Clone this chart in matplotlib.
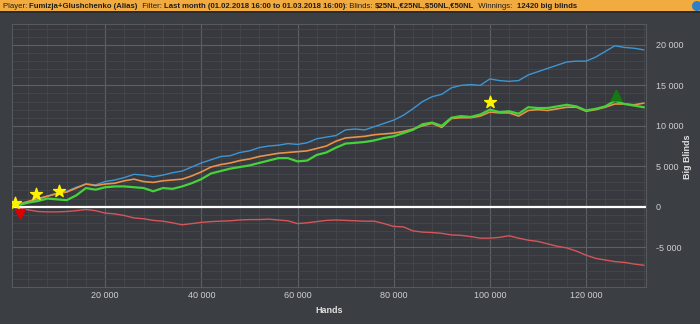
import matplotlib
matplotlib.use("Agg")
import matplotlib.pyplot as plt
from matplotlib.ticker import MultipleLocator, FuncFormatter

# hands played, sampled every 2000 hands
hands = list(range(0, 134000, 2000))

# showdown winnings (blue)
showdown = [0, 300, 600, 900, 1300, 1700, 1900, 2400, 2800, 2700,
            3100, 3300, 3600, 4000, 3900, 3700, 3900, 4200, 4400, 4900,
            5400, 5800, 6200, 6300, 6700, 6900, 7300, 7500, 7600, 7800,
            7700, 7900, 8400, 8600, 8800, 9500, 9600, 9500, 9900, 10300,
            10700, 11300, 12100, 13000, 13600, 13900, 14700, 15000, 15100, 15000,
            15800, 15600, 15500, 15600, 16300, 16700, 17100, 17500, 17900, 18000,
            18000, 18500, 19200, 19900, 19700, 19600, 19400]

# all-in EV (orange)
allin_ev = [0, 300, 650, 1000, 1300, 1600, 1800, 2300, 2800, 2600,
            2800, 2900, 3200, 3400, 3100, 3000, 3200, 3300, 3400, 3800,
            4300, 4900, 5200, 5400, 5700, 5900, 6200, 6400, 6600, 6700,
            6800, 6900, 7200, 7500, 8100, 8500, 8600, 8700, 8900, 9000,
            9100, 9300, 9600, 10000, 10300, 9800, 10900, 11000, 11000, 11200,
            11700, 11600, 11600, 11200, 11900, 12000, 11900, 12100, 12300, 12300,
            11800, 12000, 12300, 12700, 12700, 12600, 12800]

# net won (green)
net_won = [0, 200, 500, 700, 1000, 900, 800, 1400, 2300, 2100,
           2400, 2500, 2500, 2400, 2300, 1900, 2300, 2200, 2500, 2900,
           3400, 4100, 4400, 4700, 4900, 5100, 5400, 5700, 6000, 6000,
           5600, 5700, 6400, 6700, 7300, 7800, 7900, 8000, 8200, 8500,
           8700, 9100, 9500, 10200, 10400, 10000, 11000, 11200, 11100, 11400,
           12000, 11700, 11800, 11500, 12300, 12200, 12200, 12400, 12600, 12400,
           11900, 12100, 12400, 13100, 12700, 12500, 12300]

# non-showdown winnings (red)
non_showdown = [0, -150, -400, -600, -650, -650, -600, -500, -350, -500,
                -800, -900, -1100, -1400, -1500, -1700, -1800, -2000, -2250, -2100,
                -1950, -1850, -1800, -1750, -1650, -1600, -1600, -1550, -1650, -1750,
                -2100, -2000, -1850, -1700, -1650, -1700, -1750, -1800, -1800, -2100,
                -2450, -2500, -3000, -3150, -3200, -3300, -3500, -3550, -3700, -3900,
                -3900, -3800, -3600, -3900, -4150, -4300, -4600, -4900, -5100, -5500,
                -6000, -6400, -6600, -6800, -6900, -7100, -7250]

# event markers
star_x = [1300, 5700, 10400, 100000]
star_y = [460, 1570, 1940, 13000]
down_x = [2350]
down_y = [-900]
up_x = [126300]
up_y = [13860]

header = [("Player: ", False), ("Fumizja+Glushchenko (Alias)", True),
          ("  Filter: ", False), ("Last month (01.02.2018 16:00 to 01.03.2018 16:00)", True),
          (": Blinds: ", False), (r"\$25NL,€25NL,\$50NL,€50NL", True),
          ("  Winnings:  ", False), ("12420 big blinds", True)]

bg = "#3b3e43"
fig = plt.figure(figsize=(7, 3.24), dpi=100, facecolor=bg)
ax = fig.add_axes([0.017, 0.114, 0.906, 0.812], facecolor="#37393e")

ax.plot(hands, showdown, color="#3d96d4", lw=1.0)
ax.plot(hands, allin_ev, color="#e8924a", lw=1.2)
ax.plot(hands, net_won, color="#45d23a", lw=1.6)
ax.plot(hands, non_showdown, color="#d6555a", lw=1.0)
ax.axhline(0, color="white", lw=1.6)

ax.scatter(star_x, star_y, marker="*", s=80, color="#fff200", zorder=5)
ax.scatter(down_x, down_y, marker="v", s=50, color="#dd0000", zorder=5)
ax.scatter(up_x, up_y, marker="^", s=60, color="#137a13", zorder=5)

ax.set_xlim(600, 132500)
ax.set_ylim(-9950, 22600)
ax.xaxis.set_major_locator(MultipleLocator(20000))
ax.xaxis.set_minor_locator(MultipleLocator(4000))
ax.yaxis.set_major_locator(MultipleLocator(5000))
ax.yaxis.set_minor_locator(MultipleLocator(1000))
fmt = FuncFormatter(lambda v, p: f"{int(v):,}".replace(",", " "))
ax.xaxis.set_major_formatter(fmt)
ax.yaxis.set_major_formatter(fmt)
ax.yaxis.tick_right()
ax.tick_params(which="both", length=0, colors="#cfcfcf", labelsize=6.5)
for lbl in ax.get_xticklabels() + ax.get_yticklabels():
    lbl.set_family("Liberation Sans")
ax.tick_params(axis="y", pad=7)
ax.tick_params(axis="x", pad=3)
ax.grid(which="major", color="#5c5f64", lw=0.8)
ax.grid(which="minor", color="#44474c", lw=0.6)
ax.set_axisbelow(True)
for s in ax.spines.values():
    s.set_color("#56595e")
    s.set_linewidth(0.8)
ax.set_xlabel("Hands", color="#e0e0e0", fontsize=6.5, fontweight="bold", labelpad=4,
              family="Liberation Sans")
fig.text(688 / 700, 1 - 157 / 324, "Big Blinds", color="#e0e0e0", fontsize=6.5,
         fontweight="bold", rotation=90, ha="center", va="center", family="Liberation Sans")

# orange header bar
fig.patches.append(plt.Rectangle((0, 1 - 11.5 / 324), 1, 11.5 / 324, transform=fig.transFigure,
                                 facecolor="#f2ab3f", edgecolor="none"))
fig.patches.append(plt.Rectangle((0, 1 - 13 / 324), 1, 1.5 / 324, transform=fig.transFigure,
                                 facecolor="#2a2c30", edgecolor="none"))
fig.patches.append(matplotlib.patches.Circle((697, 318), 5, transform=None,
                                             facecolor="#2f7fc8", edgecolor="none"))

fig.canvas.draw()
r = fig.canvas.get_renderer()
xpos = 3
for txt, bold in header:
    t = fig.text(xpos / 700, 1 - 6 / 324, txt, fontsize=5.6, color="#1e1e1e",
                 fontweight="bold" if bold else "normal", va="center", ha="left",
                 family="Liberation Sans")
    xpos += t.get_window_extent(r).width

fig.savefig("out.png", dpi=100, facecolor=bg)
